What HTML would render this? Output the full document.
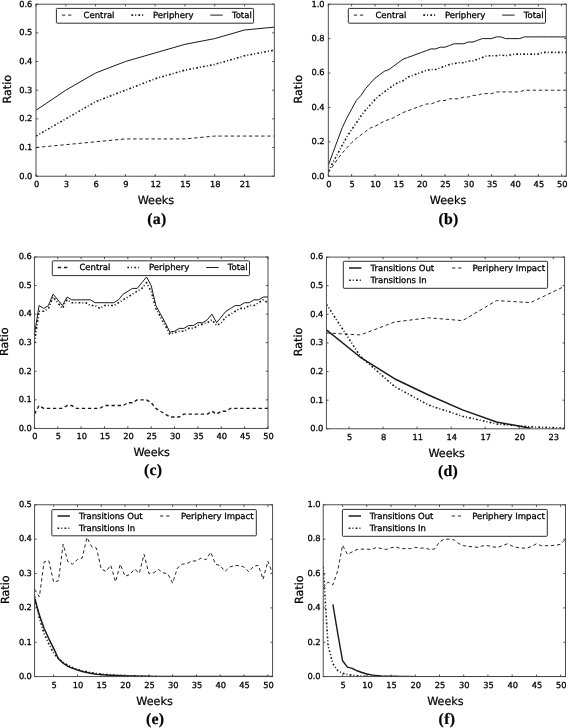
<!DOCTYPE html>
<html><head><meta charset="utf-8"><title>Figure</title>
<style>html,body{margin:0;padding:0;background:#fff}svg{display:block;text-rendering:geometricPrecision}text{fill:#000;stroke:#000;stroke-width:.28px}.big text,text.big{stroke-width:.22px}</style></head>
<body><svg width="568" height="728" viewBox="0 0 568 728" font-family='"DejaVu Sans", "Liberation Sans", sans-serif' fill="#1a1a1a">
<rect width="568" height="728" fill="#fff"/>
<clipPath id="c1"><rect x="36" y="4.2" width="238.3" height="172"/></clipPath>
<polyline points="36,147.53 65.79,144.67 95.58,141.8 125.36,138.93 155.15,138.93 184.94,138.93 214.73,136.07 244.51,136.07 274.3,136.07" fill="none" stroke="#1a1a1a" stroke-width="0.95" stroke-dasharray="3.4 2.7" stroke-linejoin="round" clip-path="url(#c1)"/>
<polyline points="36,136.07 65.79,118.87 95.58,101.67 125.36,90.2 155.15,78.73 184.94,70.13 214.73,64.4 244.51,55.8 274.3,50.07" fill="none" stroke="#1a1a1a" stroke-width="1.6" stroke-dasharray="1.8 2.0 1.0 2.2" stroke-linejoin="round" clip-path="url(#c1)"/>
<polyline points="36,110.27 65.79,90.2 95.58,73 125.36,61.53 155.15,52.93 184.94,44.33 214.73,38.6 244.51,30 274.3,27.13" fill="none" stroke="#1a1a1a" stroke-width="1.0" stroke-linejoin="round" clip-path="url(#c1)"/>
<path d="M36 176.2v-2.1M36 4.2v2.1M65.79 176.2v-2.1M65.79 4.2v2.1M95.58 176.2v-2.1M95.58 4.2v2.1M125.36 176.2v-2.1M125.36 4.2v2.1M155.15 176.2v-2.1M155.15 4.2v2.1M184.94 176.2v-2.1M184.94 4.2v2.1M214.73 176.2v-2.1M214.73 4.2v2.1M244.51 176.2v-2.1M244.51 4.2v2.1M36 176.2h2.1M274.3 176.2h-2.1M36 147.53h2.1M274.3 147.53h-2.1M36 118.87h2.1M274.3 118.87h-2.1M36 90.2h2.1M274.3 90.2h-2.1M36 61.53h2.1M274.3 61.53h-2.1M36 32.87h2.1M274.3 32.87h-2.1M36 4.2h2.1M274.3 4.2h-2.1" stroke="#000" stroke-width="0.7" fill="none"/>
<rect x="36" y="4.2" width="238.3" height="172" fill="none" stroke="#3a3a3a" stroke-width="0.9"/>
<g font-size="8.3" text-anchor="middle">
<text x="36.6" y="186.8">0</text>
<text x="66.39" y="186.8">3</text>
<text x="96.17" y="186.8">6</text>
<text x="125.96" y="186.8">9</text>
<text x="155.75" y="186.8">12</text>
<text x="185.54" y="186.8">15</text>
<text x="215.33" y="186.8">18</text>
<text x="245.11" y="186.8">21</text>
</g>
<g font-size="8.3" text-anchor="end" letter-spacing="-0.1">
<text x="32.2" y="178.53">0.0</text>
<text x="32.2" y="149.86">0.1</text>
<text x="32.2" y="121.2">0.2</text>
<text x="32.2" y="92.53">0.3</text>
<text x="32.2" y="63.86">0.4</text>
<text x="32.2" y="35.2">0.5</text>
<text x="32.2" y="6.53">0.6</text>
</g>
<rect x="56.4" y="8.4" width="197.2" height="14.8" rx="0.8" fill="#fff" stroke="#2e2e2e" stroke-width="1"/>
<path d="M61.9 15.1H71.5" stroke="#1a1a1a" stroke-width="0.95" stroke-dasharray="3.4 2.7" fill="none"/>
<text x="83.5" y="17.9" font-size="8.5">Central</text>
<path d="M131.4 15.1H143.8" stroke="#1a1a1a" stroke-width="1.6" stroke-dasharray="1.8 2.0 1.0 2.2" fill="none"/>
<text x="153" y="17.9" font-size="8.5">Periphery</text>
<path d="M210.3 15.1H222.7" stroke="#1a1a1a" stroke-width="1.0" fill="none"/>
<text x="231.9" y="17.9" font-size="8.5">Total</text>
<text x="155.95" y="204" class="big" font-size="11.2" text-anchor="middle">Weeks</text>
<text transform="translate(10.5 89.2) rotate(-90)" class="big" font-size="11.2" text-anchor="middle">Ratio</text>
<text x="156.95" y="223.8" font-size="15.8" text-anchor="middle" font-family='"Liberation Serif", "DejaVu Serif", serif' font-weight="bold" class="big" letter-spacing="0.3">(a)</text>
<clipPath id="c2"><rect x="328.3" y="4.2" width="238" height="172"/></clipPath>
<polyline points="328.3,172.76 332.97,165.88 337.63,159 342.3,152.98 346.97,147.82 351.63,142.66 356.3,138.36 360.97,134.92 365.63,131.48 370.3,128.04 374.97,126.32 379.63,123.74 384.3,121.16 388.97,119.44 393.63,117.72 398.3,115.14 402.97,112.56 407.63,110.84 412.3,109.12 416.97,107.4 421.63,105.68 426.3,103.96 430.97,103.96 435.63,102.24 440.3,100.52 444.97,100.52 449.63,98.8 454.3,98.8 458.97,98.8 463.63,97.08 468.3,97.08 472.97,95.36 477.63,95.36 482.3,93.64 486.97,93.64 491.63,93.64 496.3,91.92 500.97,91.92 505.63,91.92 510.3,91.92 514.97,91.92 519.63,91.92 524.3,90.2 528.97,90.2 533.63,90.2 538.3,90.2 542.97,90.2 547.63,90.2 552.3,90.2 556.97,90.2 561.63,90.2 566.3,90.2" fill="none" stroke="#1a1a1a" stroke-width="0.95" stroke-dasharray="3.4 2.7" stroke-linejoin="round" clip-path="url(#c2)"/>
<polyline points="328.3,171.04 332.97,162.44 337.63,153.84 342.3,145.24 346.97,136.64 351.63,129.76 356.3,122.88 360.97,116 365.63,109.98 370.3,104.82 374.97,99.66 379.63,95.36 384.3,91.92 388.97,88.48 393.63,85.04 398.3,82.46 402.97,80.74 407.63,77.3 412.3,75.58 416.97,73.86 421.63,72.14 426.3,70.42 430.97,69.56 435.63,69.56 440.3,67.84 444.97,66.12 449.63,64.4 454.3,63.54 458.97,62.68 463.63,62.68 468.3,60.96 472.97,60.96 477.63,59.24 482.3,57.52 486.97,55.8 491.63,55.8 496.3,55.8 500.97,54.94 505.63,55.8 510.3,54.94 514.97,54.08 519.63,54.08 524.3,54.08 528.97,54.08 533.63,54.08 538.3,54.08 542.97,52.36 547.63,52.36 552.3,52.36 556.97,52.36 561.63,52.36 566.3,52.36" fill="none" stroke="#1a1a1a" stroke-width="1.6" stroke-dasharray="1.8 2.0 1.0 2.2" stroke-linejoin="round" clip-path="url(#c2)"/>
<polyline points="328.3,165.19 332.97,152.64 337.63,140.08 342.3,127.52 346.97,117.72 351.63,109.12 356.3,100.52 360.97,95.36 365.63,88.48 370.3,83.32 374.97,78.16 379.63,74.72 384.3,71.28 388.97,69.56 393.63,66.12 398.3,62.68 402.97,59.24 407.63,57.52 412.3,55.8 416.97,54.08 421.63,52.36 426.3,50.64 430.97,48.92 435.63,48.92 440.3,47.2 444.97,47.2 449.63,45.48 454.3,43.76 458.97,43.76 463.63,43.76 468.3,42.04 472.97,42.04 477.63,40.32 482.3,38.6 486.97,38.6 491.63,38.6 496.3,36.88 500.97,36.88 505.63,38.6 510.3,38.6 514.97,38.6 519.63,38.6 524.3,36.88 528.97,36.88 533.63,36.88 538.3,36.88 542.97,36.88 547.63,36.88 552.3,36.88 556.97,36.88 561.63,36.88 566.3,36.88" fill="none" stroke="#1a1a1a" stroke-width="1.0" stroke-linejoin="round" clip-path="url(#c2)"/>
<path d="M328.3 176.2v-2.1M328.3 4.2v2.1M351.63 176.2v-2.1M351.63 4.2v2.1M374.97 176.2v-2.1M374.97 4.2v2.1M398.3 176.2v-2.1M398.3 4.2v2.1M421.63 176.2v-2.1M421.63 4.2v2.1M444.97 176.2v-2.1M444.97 4.2v2.1M468.3 176.2v-2.1M468.3 4.2v2.1M491.63 176.2v-2.1M491.63 4.2v2.1M514.97 176.2v-2.1M514.97 4.2v2.1M538.3 176.2v-2.1M538.3 4.2v2.1M561.63 176.2v-2.1M561.63 4.2v2.1M328.3 176.2h2.1M566.3 176.2h-2.1M328.3 141.8h2.1M566.3 141.8h-2.1M328.3 107.4h2.1M566.3 107.4h-2.1M328.3 73h2.1M566.3 73h-2.1M328.3 38.6h2.1M566.3 38.6h-2.1M328.3 4.2h2.1M566.3 4.2h-2.1" stroke="#000" stroke-width="0.7" fill="none"/>
<rect x="328.3" y="4.2" width="238" height="172" fill="none" stroke="#3a3a3a" stroke-width="0.9"/>
<g font-size="8.3" text-anchor="middle">
<text x="328.9" y="186.8">0</text>
<text x="352.23" y="186.8">5</text>
<text x="375.57" y="186.8">10</text>
<text x="398.9" y="186.8">15</text>
<text x="422.23" y="186.8">20</text>
<text x="445.57" y="186.8">25</text>
<text x="468.9" y="186.8">30</text>
<text x="492.23" y="186.8">35</text>
<text x="515.57" y="186.8">40</text>
<text x="538.9" y="186.8">45</text>
<text x="562.23" y="186.8">50</text>
</g>
<g font-size="8.3" text-anchor="end" letter-spacing="-0.1">
<text x="324.5" y="178.53">0.0</text>
<text x="324.5" y="144.13">0.2</text>
<text x="324.5" y="109.73">0.4</text>
<text x="324.5" y="75.33">0.6</text>
<text x="324.5" y="40.93">0.8</text>
<text x="324.5" y="6.53">1.0</text>
</g>
<rect x="348.3" y="8.4" width="197.2" height="14.8" rx="0.8" fill="#fff" stroke="#2e2e2e" stroke-width="1"/>
<path d="M353.8 15.1H363.4" stroke="#1a1a1a" stroke-width="0.95" stroke-dasharray="3.4 2.7" fill="none"/>
<text x="375.4" y="17.9" font-size="8.5">Central</text>
<path d="M423.3 15.1H435.7" stroke="#1a1a1a" stroke-width="1.6" stroke-dasharray="1.8 2.0 1.0 2.2" fill="none"/>
<text x="444.9" y="17.9" font-size="8.5">Periphery</text>
<path d="M502.2 15.1H514.6" stroke="#1a1a1a" stroke-width="1.0" fill="none"/>
<text x="523.8" y="17.9" font-size="8.5">Total</text>
<text x="448" y="204" class="big" font-size="11.2" text-anchor="middle">Weeks</text>
<text transform="translate(302.2 89.2) rotate(-90)" class="big" font-size="11.2" text-anchor="middle">Ratio</text>
<text x="448.5" y="223.8" font-size="15.8" text-anchor="middle" font-family='"Liberation Serif", "DejaVu Serif", serif' font-weight="bold" class="big" letter-spacing="0.3">(b)</text>
<clipPath id="c3"><rect x="34.4" y="257" width="233.6" height="171.4"/></clipPath>
<polyline points="34.4,414.12 39.07,405.55 43.74,408.4 48.42,408.4 53.09,408.4 57.76,408.4 62.43,408.4 67.1,405.55 71.78,405.55 76.45,408.4 81.12,408.4 85.79,408.4 90.46,408.4 95.14,408.4 99.81,408.4 104.48,405.55 109.15,405.55 113.82,405.55 118.5,405.55 123.17,405.55 127.84,402.69 132.51,402.69 137.18,399.83 141.86,399.83 146.53,399.83 151.2,402.69 155.87,408.4 160.54,411.26 165.22,414.12 169.89,416.97 174.56,416.97 179.23,416.97 183.9,414.12 188.58,414.12 193.25,414.12 197.92,414.12 202.59,414.12 207.26,414.12 211.94,411.26 216.61,414.12 221.28,411.26 225.95,411.26 230.62,408.4 235.3,408.4 239.97,408.4 244.64,408.4 249.31,408.4 253.98,408.4 258.66,408.4 263.33,408.4 268,408.4" fill="none" stroke="#1a1a1a" stroke-width="1.4" stroke-dasharray="3.4 2.7" stroke-linejoin="round" clip-path="url(#c3)"/>
<polyline points="34.4,342.7 39.07,311.28 43.74,311.28 48.42,308.42 53.09,296.99 57.76,302.71 62.43,308.42 67.1,299.85 71.78,302.71 76.45,302.71 81.12,302.71 85.79,302.71 90.46,305.56 95.14,305.56 99.81,308.42 104.48,305.56 109.15,305.56 113.82,305.56 118.5,302.71 123.17,299.85 127.84,296.99 132.51,294.14 137.18,291.28 141.86,288.42 146.53,282.71 151.2,291.28 155.87,308.42 160.54,316.99 165.22,325.56 169.89,334.13 174.56,332.7 179.23,331.27 183.9,331.27 188.58,328.42 193.25,328.42 197.92,325.56 202.59,324.13 207.26,322.7 211.94,319.85 216.61,325.56 221.28,322.7 225.95,316.99 230.62,314.13 235.3,311.28 239.97,308.42 244.64,308.42 249.31,305.56 253.98,305.56 258.66,302.71 263.33,299.85 268,302.71" fill="none" stroke="#1a1a1a" stroke-width="1.6" stroke-dasharray="1.8 2.0 1.0 2.2" stroke-linejoin="round" clip-path="url(#c3)"/>
<polyline points="34.4,334.7 39.07,305.56 43.74,308.42 48.42,305.56 53.09,294.14 57.76,299.85 62.43,305.56 67.1,296.99 71.78,299.85 76.45,299.85 81.12,299.85 85.79,299.85 90.46,299.85 95.14,302.71 99.81,302.71 104.48,302.71 109.15,302.71 113.82,302.71 118.5,299.85 123.17,294.14 127.84,291.28 132.51,288.42 137.18,288.42 141.86,282.71 146.53,277 151.2,285.57 155.87,305.56 160.54,314.13 165.22,322.7 169.89,332.13 174.56,331.27 179.23,328.42 183.9,328.42 188.58,325.56 193.25,325.56 197.92,322.7 202.59,322.7 207.26,319.85 211.94,314.13 216.61,322.7 221.28,316.99 225.95,311.28 230.62,308.42 235.3,305.56 239.97,305.56 244.64,302.71 249.31,302.71 253.98,299.85 258.66,299.85 263.33,296.99 268,296.99" fill="none" stroke="#1a1a1a" stroke-width="1.0" stroke-linejoin="round" clip-path="url(#c3)"/>
<path d="M34.4 428.4v-2.1M34.4 257v2.1M57.76 428.4v-2.1M57.76 257v2.1M81.12 428.4v-2.1M81.12 257v2.1M104.48 428.4v-2.1M104.48 257v2.1M127.84 428.4v-2.1M127.84 257v2.1M151.2 428.4v-2.1M151.2 257v2.1M174.56 428.4v-2.1M174.56 257v2.1M197.92 428.4v-2.1M197.92 257v2.1M221.28 428.4v-2.1M221.28 257v2.1M244.64 428.4v-2.1M244.64 257v2.1M268 428.4v-2.1M268 257v2.1M34.4 428.4h2.1M268 428.4h-2.1M34.4 399.83h2.1M268 399.83h-2.1M34.4 371.27h2.1M268 371.27h-2.1M34.4 342.7h2.1M268 342.7h-2.1M34.4 314.13h2.1M268 314.13h-2.1M34.4 285.57h2.1M268 285.57h-2.1M34.4 257h2.1M268 257h-2.1" stroke="#000" stroke-width="0.7" fill="none"/>
<rect x="34.4" y="257" width="233.6" height="171.4" fill="none" stroke="#3a3a3a" stroke-width="0.9"/>
<g font-size="8.3" text-anchor="middle">
<text x="35" y="438.5">0</text>
<text x="58.36" y="438.5">5</text>
<text x="81.72" y="438.5">10</text>
<text x="105.08" y="438.5">15</text>
<text x="128.44" y="438.5">20</text>
<text x="151.8" y="438.5">25</text>
<text x="175.16" y="438.5">30</text>
<text x="198.52" y="438.5">35</text>
<text x="221.88" y="438.5">40</text>
<text x="245.24" y="438.5">45</text>
<text x="268.6" y="438.5">50</text>
</g>
<g font-size="8.3" text-anchor="end" letter-spacing="-0.1">
<text x="31.6" y="430.73">0.0</text>
<text x="31.6" y="402.16">0.1</text>
<text x="31.6" y="373.6">0.2</text>
<text x="31.6" y="345.03">0.3</text>
<text x="31.6" y="316.46">0.4</text>
<text x="31.6" y="287.9">0.5</text>
<text x="31.6" y="259.33">0.6</text>
</g>
<rect x="52.3" y="260.8" width="197.2" height="14.8" rx="0.8" fill="#fff" stroke="#2e2e2e" stroke-width="1"/>
<path d="M57.8 267.5H67.4" stroke="#1a1a1a" stroke-width="1.4" stroke-dasharray="3.4 2.7" fill="none"/>
<text x="79.4" y="270.3" font-size="8.5">Central</text>
<path d="M127.3 267.5H139.7" stroke="#1a1a1a" stroke-width="1.6" stroke-dasharray="1.8 2.0 1.0 2.2" fill="none"/>
<text x="148.9" y="270.3" font-size="8.5">Periphery</text>
<path d="M206.2 267.5H218.6" stroke="#1a1a1a" stroke-width="1.0" fill="none"/>
<text x="227.8" y="270.3" font-size="8.5">Total</text>
<text x="151.7" y="456" class="big" font-size="11.2" text-anchor="middle">Weeks</text>
<text transform="translate(7.6 341.7) rotate(-90)" class="big" font-size="11.2" text-anchor="middle">Ratio</text>
<text x="153.2" y="475.2" font-size="15.8" text-anchor="middle" font-family='"Liberation Serif", "DejaVu Serif", serif' font-weight="bold" class="big" letter-spacing="0.3">(c)</text>
<clipPath id="c4"><rect x="326.4" y="257.1" width="238.2" height="171.7"/></clipPath>
<polyline points="326.4,332.93 360.43,334.94 394.46,322.06 428.49,317.77 462.51,320.63 496.54,300.6 530.57,302.6 564.6,286.29" fill="none" stroke="#1a1a1a" stroke-width="0.95" stroke-dasharray="3.4 2.7" stroke-linejoin="round" clip-path="url(#c4)"/>
<polyline points="326.4,304.32 360.43,356.4 394.46,386.45 428.49,405.05 462.51,416.21 496.54,423.94 530.57,426.8 564.6,428.23" fill="none" stroke="#1a1a1a" stroke-width="1.6" stroke-dasharray="1.8 2.0 1.0 2.2" stroke-linejoin="round" clip-path="url(#c4)"/>
<polyline points="326.4,329.79 360.43,357.26 394.46,378.72 428.49,395.03 462.51,409.91 496.54,421.93 530.57,428.23" fill="none" stroke="#1a1a1a" stroke-width="1.5" stroke-linejoin="round" clip-path="url(#c4)"/>
<path d="M349.09 428.8v-2.1M349.09 257.1v2.1M383.11 428.8v-2.1M383.11 257.1v2.1M417.14 428.8v-2.1M417.14 257.1v2.1M451.17 428.8v-2.1M451.17 257.1v2.1M485.2 428.8v-2.1M485.2 257.1v2.1M519.23 428.8v-2.1M519.23 257.1v2.1M553.26 428.8v-2.1M553.26 257.1v2.1M326.4 428.8h2.1M564.6 428.8h-2.1M326.4 400.18h2.1M564.6 400.18h-2.1M326.4 371.57h2.1M564.6 371.57h-2.1M326.4 342.95h2.1M564.6 342.95h-2.1M326.4 314.33h2.1M564.6 314.33h-2.1M326.4 285.72h2.1M564.6 285.72h-2.1M326.4 257.1h2.1M564.6 257.1h-2.1" stroke="#000" stroke-width="0.7" fill="none"/>
<rect x="326.4" y="257.1" width="238.2" height="171.7" fill="none" stroke="#3a3a3a" stroke-width="0.9"/>
<g font-size="8.3" text-anchor="middle">
<text x="349.69" y="439.5">5</text>
<text x="383.71" y="439.5">8</text>
<text x="417.74" y="439.5">11</text>
<text x="451.77" y="439.5">14</text>
<text x="485.8" y="439.5">17</text>
<text x="519.83" y="439.5">20</text>
<text x="553.86" y="439.5">23</text>
</g>
<g font-size="8.3" text-anchor="end" letter-spacing="-0.1">
<text x="323.2" y="431.13">0.0</text>
<text x="323.2" y="402.51">0.1</text>
<text x="323.2" y="373.9">0.2</text>
<text x="323.2" y="345.28">0.3</text>
<text x="323.2" y="316.66">0.4</text>
<text x="323.2" y="288.05">0.5</text>
<text x="323.2" y="259.43">0.6</text>
</g>
<rect x="343.3" y="261.3" width="204.3" height="27" rx="0.8" fill="#fff" stroke="#2e2e2e" stroke-width="1"/>
<path d="M349 268H361.4" stroke="#1a1a1a" stroke-width="1.5" fill="none"/>
<text x="370.5" y="271" font-size="8.5">Transitions Out</text>
<path d="M349 280.3H361.4" stroke="#1a1a1a" stroke-width="1.6" stroke-dasharray="1.8 2.0 1.0 2.2" fill="none"/>
<text x="370.5" y="283.3" font-size="8.5">Transitions In</text>
<path d="M452 268H461.6" stroke="#1a1a1a" stroke-width="0.95" stroke-dasharray="3.4 2.7" fill="none"/>
<text x="472.5" y="271" font-size="8.5">Periphery Impact</text>
<text x="446.7" y="456.5" class="big" font-size="11.2" text-anchor="middle">Weeks</text>
<text transform="translate(302 341.95) rotate(-90)" class="big" font-size="11.2" text-anchor="middle">Ratio</text>
<text x="448" y="476.3" font-size="15.8" text-anchor="middle" font-family='"Liberation Serif", "DejaVu Serif", serif' font-weight="bold" class="big" letter-spacing="0.3">(d)</text>
<clipPath id="c5"><rect x="34.6" y="504.8" width="238" height="171.8"/></clipPath>
<polyline points="34.6,589.33 39.36,596.88 44.12,561.84 48.88,560.81 53.64,582.11 58.4,580.74 63.16,544.31 67.92,561.84 72.68,564.24 77.44,559.43 82.2,558.06 86.96,537.44 91.72,546.72 96.48,548.09 101.24,569.05 106,571.46 110.76,565.27 115.52,581.77 120.28,564.24 125.04,576.27 129.8,574.55 134.56,569.05 139.32,573.18 144.08,554.28 148.84,573.52 153.6,572.83 158.36,569.4 163.12,572.83 167.88,573.86 172.64,583.14 177.4,568.02 182.16,564.24 186.92,563.56 191.68,561.15 196.44,560.81 201.2,558.06 205.96,559.78 210.72,552.22 215.48,564.24 220.24,565.62 225,571.46 229.76,566.99 234.52,565.62 239.28,565.62 244.04,566.99 248.8,571.8 253.56,566.3 258.32,565.27 263.08,579.36 267.84,561.15 272.6,573.52" fill="none" stroke="#1a1a1a" stroke-width="0.95" stroke-dasharray="3.4 2.7" stroke-linejoin="round" clip-path="url(#c5)"/>
<polyline points="34.6,595.85 39.36,618.19 44.12,633.65 48.88,643.96 53.64,653.24 58.4,658.73 63.16,662.17 67.92,665.26 72.68,667.67 77.44,669.38 82.2,670.76 86.96,671.79 91.72,672.82 96.48,673.51 101.24,674.19 106,674.54 110.76,674.88 115.52,675.23 120.28,675.57 125.04,675.57 129.8,675.91 134.56,675.91 139.32,675.91 144.08,676.26 148.84,676.26 153.6,676.6 158.36,676.6" fill="none" stroke="#1a1a1a" stroke-width="1.6" stroke-dasharray="1.8 2.0 1.0 2.2" stroke-linejoin="round" clip-path="url(#c5)"/>
<polyline points="34.6,598.26 39.36,615.1 44.12,628.5 48.88,638.8 53.64,648.42 58.4,658.73 63.16,663.2 67.92,666.29 72.68,668.35 77.44,670.07 82.2,671.45 86.96,672.48 91.72,673.51 96.48,674.19 101.24,674.54 106,674.88 110.76,675.23 115.52,675.57 120.28,675.57 125.04,675.91 129.8,675.91 134.56,675.91 139.32,676.26 144.08,676.26 148.84,676.26 153.6,676.6 158.36,676.6 163.12,676.6 167.88,676.6 172.64,676.6 177.4,676.6 182.16,676.6 186.92,676.6 191.68,676.6 196.44,676.6 201.2,676.6 205.96,676.6 210.72,676.6 215.48,676.6 220.24,676.6 225,676.6 229.76,676.6 234.52,676.6 239.28,676.6 244.04,676.6 248.8,676.6 253.56,676.6 258.32,676.6 263.08,676.6 267.84,676.6 272.6,676.6" fill="none" stroke="#1a1a1a" stroke-width="1.5" stroke-linejoin="round" clip-path="url(#c5)"/>
<path d="M53.64 676.6v-2.1M53.64 504.8v2.1M77.44 676.6v-2.1M77.44 504.8v2.1M101.24 676.6v-2.1M101.24 504.8v2.1M125.04 676.6v-2.1M125.04 504.8v2.1M148.84 676.6v-2.1M148.84 504.8v2.1M172.64 676.6v-2.1M172.64 504.8v2.1M196.44 676.6v-2.1M196.44 504.8v2.1M220.24 676.6v-2.1M220.24 504.8v2.1M244.04 676.6v-2.1M244.04 504.8v2.1M267.84 676.6v-2.1M267.84 504.8v2.1M34.6 676.6h2.1M272.6 676.6h-2.1M34.6 642.24h2.1M272.6 642.24h-2.1M34.6 607.88h2.1M272.6 607.88h-2.1M34.6 573.52h2.1M272.6 573.52h-2.1M34.6 539.16h2.1M272.6 539.16h-2.1M34.6 504.8h2.1M272.6 504.8h-2.1" stroke="#000" stroke-width="0.7" fill="none"/>
<rect x="34.6" y="504.8" width="238" height="171.8" fill="none" stroke="#3a3a3a" stroke-width="0.9"/>
<g font-size="8.3" text-anchor="middle">
<text x="54.24" y="687.5">5</text>
<text x="78.04" y="687.5">10</text>
<text x="101.84" y="687.5">15</text>
<text x="125.64" y="687.5">20</text>
<text x="149.44" y="687.5">25</text>
<text x="173.24" y="687.5">30</text>
<text x="197.04" y="687.5">35</text>
<text x="220.84" y="687.5">40</text>
<text x="244.64" y="687.5">45</text>
<text x="268.44" y="687.5">50</text>
</g>
<g font-size="8.3" text-anchor="end" letter-spacing="-0.1">
<text x="31.8" y="678.93">0.0</text>
<text x="31.8" y="644.57">0.1</text>
<text x="31.8" y="610.21">0.2</text>
<text x="31.8" y="575.85">0.3</text>
<text x="31.8" y="541.49">0.4</text>
<text x="31.8" y="507.13">0.5</text>
</g>
<rect x="51.8" y="509.6" width="204.5" height="26.2" rx="0.8" fill="#fff" stroke="#2e2e2e" stroke-width="1"/>
<path d="M57.5 516H69.9" stroke="#1a1a1a" stroke-width="1.5" fill="none"/>
<text x="79" y="519" font-size="8.5">Transitions Out</text>
<path d="M57.5 528.3H69.9" stroke="#1a1a1a" stroke-width="1.6" stroke-dasharray="1.8 2.0 1.0 2.2" fill="none"/>
<text x="79" y="531.3" font-size="8.5">Transitions In</text>
<path d="M160 516H169.6" stroke="#1a1a1a" stroke-width="0.95" stroke-dasharray="3.4 2.7" fill="none"/>
<text x="181" y="519" font-size="8.5">Periphery Impact</text>
<text x="154.5" y="705.1" class="big" font-size="11.2" text-anchor="middle">Weeks</text>
<text transform="translate(9 589.7) rotate(-90)" class="big" font-size="11.2" text-anchor="middle">Ratio</text>
<text x="155.1" y="724" font-size="15.8" text-anchor="middle" font-family='"Liberation Serif", "DejaVu Serif", serif' font-weight="bold" class="big" letter-spacing="0.3">(e)</text>
<clipPath id="c6"><rect x="323.2" y="504.8" width="242.3" height="171.8"/></clipPath>
<polyline points="323.2,588.12 328.05,582.11 332.89,584.86 337.74,570.6 342.58,545.17 347.43,554.45 352.28,551.87 357.12,549.47 361.97,549.12 366.81,549.12 371.66,549.47 376.51,547.41 381.35,548.61 386.2,549.47 391.04,547.75 395.89,546.89 400.74,548.61 405.58,548.61 410.43,548.61 415.27,547.41 420.12,548.09 424.97,548.09 429.81,549.47 434.66,548.95 439.5,541.91 444.35,539.16 449.2,539.16 454.04,539.85 458.89,543.63 463.73,545.69 468.58,546.38 473.43,546.89 478.27,547.41 483.12,545.69 487.96,545.69 492.81,546.89 497.66,547.41 502.5,545.69 507.35,543.8 512.19,546.03 517.04,547.41 521.89,548.09 526.73,548.09 531.58,546.38 536.42,543.8 541.27,545.69 546.12,545.69 550.96,545.69 555.81,545.17 560.65,544.31 565.5,539.16" fill="none" stroke="#1a1a1a" stroke-width="0.95" stroke-dasharray="3.4 2.7" stroke-linejoin="round" clip-path="url(#c6)"/>
<polyline points="323.2,566.65 328.05,645.68 332.89,663.72 337.74,670.59 342.58,673.34 347.43,674.54 352.28,675.23 357.12,675.74 361.97,676.08 366.81,676.26 371.66,676.26 376.51,676.43 381.35,676.6 386.2,676.6" fill="none" stroke="#1a1a1a" stroke-width="1.6" stroke-dasharray="1.8 2.0 1.0 2.2" stroke-linejoin="round" clip-path="url(#c6)"/>
<polyline points="332.89,604.44 337.74,633.31 342.58,660.79 347.43,667.15 352.28,668.35 357.12,670.76 361.97,672.48 366.81,674.02 371.66,674.88 376.51,675.57 381.35,675.91 386.2,676.08 391.04,676.26 395.89,676.26 400.74,676.43 405.58,676.43 410.43,676.43 415.27,676.6 420.12,676.6 424.97,676.6 429.81,676.6 434.66,676.6 439.5,676.6 444.35,676.6 449.2,676.6 454.04,676.6 458.89,676.6 463.73,676.6 468.58,676.6 473.43,676.6 478.27,676.6 483.12,676.6 487.96,676.6 492.81,676.6 497.66,676.6 502.5,676.6 507.35,676.6 512.19,676.6 517.04,676.6 521.89,676.6 526.73,676.6 531.58,676.6 536.42,676.6 541.27,676.6 546.12,676.6 550.96,676.6 555.81,676.6 560.65,676.6 565.5,676.6" fill="none" stroke="#1a1a1a" stroke-width="1.4" stroke-linejoin="round" clip-path="url(#c6)"/>
<path d="M342.58 676.6v-2.1M342.58 504.8v2.1M366.81 676.6v-2.1M366.81 504.8v2.1M391.04 676.6v-2.1M391.04 504.8v2.1M415.27 676.6v-2.1M415.27 504.8v2.1M439.5 676.6v-2.1M439.5 504.8v2.1M463.73 676.6v-2.1M463.73 504.8v2.1M487.96 676.6v-2.1M487.96 504.8v2.1M512.19 676.6v-2.1M512.19 504.8v2.1M536.42 676.6v-2.1M536.42 504.8v2.1M560.65 676.6v-2.1M560.65 504.8v2.1M323.2 676.6h2.1M565.5 676.6h-2.1M323.2 642.24h2.1M565.5 642.24h-2.1M323.2 607.88h2.1M565.5 607.88h-2.1M323.2 573.52h2.1M565.5 573.52h-2.1M323.2 539.16h2.1M565.5 539.16h-2.1M323.2 504.8h2.1M565.5 504.8h-2.1" stroke="#000" stroke-width="0.7" fill="none"/>
<rect x="323.2" y="504.8" width="242.3" height="171.8" fill="none" stroke="#3a3a3a" stroke-width="0.9"/>
<g font-size="8.3" text-anchor="middle">
<text x="343.18" y="687.5">5</text>
<text x="367.41" y="687.5">10</text>
<text x="391.64" y="687.5">15</text>
<text x="415.87" y="687.5">20</text>
<text x="440.1" y="687.5">25</text>
<text x="464.33" y="687.5">30</text>
<text x="488.56" y="687.5">35</text>
<text x="512.79" y="687.5">40</text>
<text x="537.02" y="687.5">45</text>
<text x="561.25" y="687.5">50</text>
</g>
<g font-size="8.3" text-anchor="end" letter-spacing="-0.1">
<text x="320.4" y="678.93">0.0</text>
<text x="320.4" y="644.57">0.2</text>
<text x="320.4" y="610.21">0.4</text>
<text x="320.4" y="575.85">0.6</text>
<text x="320.4" y="541.49">0.8</text>
<text x="320.4" y="507.13">1.0</text>
</g>
<rect x="342.4" y="509.4" width="204.9" height="26.9" rx="0.8" fill="#fff" stroke="#2e2e2e" stroke-width="1"/>
<path d="M348.6 516H361" stroke="#1a1a1a" stroke-width="1.5" fill="none"/>
<text x="369.8" y="519" font-size="8.5">Transitions Out</text>
<path d="M348.6 528.3H361" stroke="#1a1a1a" stroke-width="1.6" stroke-dasharray="1.8 2.0 1.0 2.2" fill="none"/>
<text x="369.8" y="531.3" font-size="8.5">Transitions In</text>
<path d="M451.6 516H461.2" stroke="#1a1a1a" stroke-width="0.95" stroke-dasharray="3.4 2.7" fill="none"/>
<text x="472.2" y="519" font-size="8.5">Periphery Impact</text>
<text x="445.45" y="705.1" class="big" font-size="11.2" text-anchor="middle">Weeks</text>
<text transform="translate(303 589.7) rotate(-90)" class="big" font-size="11.2" text-anchor="middle">Ratio</text>
<text x="446.95" y="724.3" font-size="15.8" text-anchor="middle" font-family='"Liberation Serif", "DejaVu Serif", serif' font-weight="bold" class="big" letter-spacing="0.3">(f)</text>
</svg></body></html>
